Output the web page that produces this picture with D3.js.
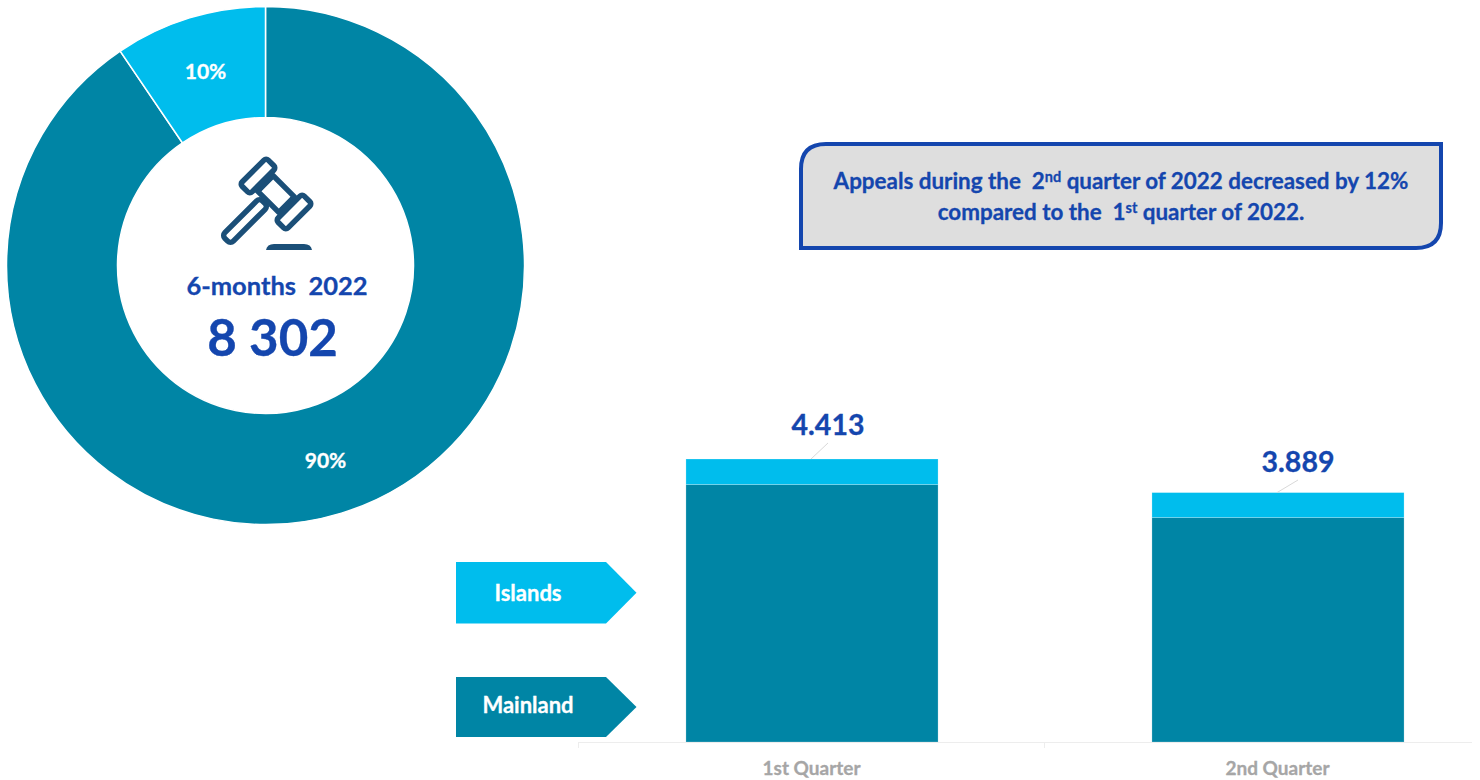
<!DOCTYPE html>
<html><head><meta charset="utf-8">
<script src="https://cdn.jsdelivr.net/npm/d3@7/dist/d3.min.js"></script>
<style>html,body{margin:0;padding:0;background:#fff}svg{display:block}text{font-family:Lato,"Open Sans",sans-serif;font-weight:700;stroke:currentColor;stroke-width:.3px}</style>
</head><body><svg id="c" width="1480" height="780"></svg>
<script>
const quarters = ["1st Quarter", "2nd Quarter"];
const mainland = [4015, 3500];
const islands = [398, 389];
const totalLabels = ["4.413", "3.889"];
const seriesNames = ["Mainland", "Islands"];
const donutValues = [7515, 787];
const donutLabels = ["90%", "10%"];
const centerTitle = "6-months  2022";
const centerValue = "8 302";

const TEAL = "#0085A5", SKY = "#00BDED", BLUE = "#1446AE", NAVY = "#1B4F78";
const svg = d3.select("#c");
const put = (sel, col) => sel.attr("fill", col).style("color", col);

// Donut
const pie = d3.pie().sort(null)(donutValues);
const arc = d3.arc().innerRadius(148).outerRadius(259);
const gd = svg.append("g").attr("transform", "translate(265.5,265.5)");
gd.selectAll("path").data(pie).join("path").attr("d", arc)
  .attr("fill", (d, i) => [TEAL, SKY][i]).attr("stroke", "#fff").attr("stroke-width", 1.5);
const donutLabelPos = [[60, 202], [-60, -187]];
put(gd.selectAll("text").data(pie).join("text")
  .attr("x", (d, i) => donutLabelPos[i][0]).attr("y", (d, i) => donutLabelPos[i][1])
  .attr("text-anchor", "middle").attr("font-size", 21), "#fff")
  .text((d, i) => donutLabels[i]);

// Gavel icon
const icon = svg.append("g").attr("fill", "none").attr("stroke", NAVY).attr("stroke-width", 5.5).attr("stroke-linejoin", "round");
const rr = (cx, cy, w, h, rx) => icon.append("rect").attr("x", -w / 2).attr("y", -h / 2).attr("width", w).attr("height", h).attr("rx", rx)
  .attr("transform", `translate(${cx},${cy}) rotate(45)`);
rr(245, 221, 12, 53, 4);
rr(276, 194, 30, 22, 0);
rr(258, 176, 14, 37, 3);
rr(294, 212, 14, 37, 3);
icon.append("path").attr("d", "M266 250 Q267 244 274 244 L304 244 Q311 244 312 250 Z").attr("fill", NAVY).attr("stroke", "none");

put(svg.append("text").attr("x", 277).attr("y", 295).attr("text-anchor", "middle").attr("font-size", 25.5).attr("xml:space", "preserve"), BLUE).text(centerTitle);
put(svg.append("text").attr("x", 272.5).attr("y", 356).attr("text-anchor", "middle").attr("font-size", 51), BLUE).text(centerValue);

// Callout
svg.append("path").attr("d", "M801 248 L801 169 Q801 144 826 144 L1441 144 L1441 223 Q1441 248 1416 248 Z")
  .attr("fill", "#DEDEDE").attr("stroke", BLUE).attr("stroke-width", 4);
const callout = [
  [["Appeals during the  2", 0], ["nd", 1], [" quarter of 2022 decreased by 12%", 0]],
  [["compared to the  1", 0], ["st", 1], [" quarter of 2022.", 0]]
];
callout.forEach((line, li) => {
  const t = put(svg.append("text").attr("x", 1121).attr("y", 189 + li * 31).attr("text-anchor", "middle")
    .attr("font-size", 22.4).attr("xml:space", "preserve"), BLUE);
  line.forEach(([s, sup]) => t.append("tspan").attr("font-size", sup ? 14.5 : 22.4).attr("baseline-shift", sup ? "7.5" : "0").text(s));
});

// Stacked bars
const x = d3.scaleBand().domain(quarters).range([579, 1511]).paddingInner(0.459).paddingOuter(0.2295);
const y = d3.scaleLinear().domain([0, 4413]).range([742, 459]);
const rows = quarters.map((q, i) => ({ q, Mainland: mainland[i], Islands: islands[i] }));
const stack = d3.stack().keys(seriesNames)(rows);
svg.append("g").selectAll("g").data(stack).join("g").attr("fill", d => d.key === "Mainland" ? TEAL : SKY)
  .selectAll("rect").data(d => d).join("rect")
  .attr("x", d => x(d.data.q)).attr("width", x.bandwidth())
  .attr("y", d => y(d[1])).attr("height", d => y(d[0]) - y(d[1]))
  .attr("stroke", "#fff").attr("stroke-opacity", 0.3).attr("stroke-width", 0.7);

// Axis
const axisG = svg.append("g").attr("stroke", "#EDEDED").attr("stroke-width", 1);
axisG.append("line").attr("x1", 578).attr("x2", 1472).attr("y1", 742.5).attr("y2", 742.5);
[578, 578 + x.step()].forEach(v => axisG.append("line").attr("x1", v + .5).attr("x2", v + .5).attr("y1", 742).attr("y2", 748));
put(svg.selectAll(".tick-l").data(quarters).join("text").attr("class", "tick-l")
  .attr("x", d => x(d) + x.bandwidth() / 2 - 0.5).attr("y", 775).attr("text-anchor", "middle")
  .attr("font-size", 19), "#A6A6A6").text(d => d);

// Total labels with leaders
const totals = quarters.map((q, i) => mainland[i] + islands[i]);
const labelDx = [16, 20], labelY = [435, 472];
put(svg.selectAll(".tot").data(quarters).join("text").attr("class", "tot")
  .attr("x", (d, i) => x(d) + x.bandwidth() / 2 + labelDx[i]).attr("y", (d, i) => labelY[i])
  .attr("text-anchor", "middle").attr("font-size", 28.5), BLUE).text((d, i) => totalLabels[i]);
svg.selectAll(".lead").data(quarters).join("line").attr("class", "lead")
  .attr("x1", d => x(d) + x.bandwidth() / 2 - 1).attr("y1", (d, i) => y(totals[i]))
  .attr("x2", (d, i) => x(d) + x.bandwidth() / 2 + labelDx[i]).attr("y2", (d, i) => labelY[i] + 8)
  .attr("stroke", "#D9D9D9").attr("stroke-width", 1);

// Legend arrows
const legendY = { Islands: [562, 623.5, 601], Mainland: [677, 737, 713] };
seriesNames.forEach(n => {
  const [t, b, base] = legendY[n];
  svg.append("path").attr("d", `M456 ${t} L606 ${t} L636.5 ${(t + b) / 2} L606 ${b} L456 ${b} Z`).attr("fill", n === "Mainland" ? TEAL : SKY);
  put(svg.append("text").attr("x", 528).attr("y", base).attr("text-anchor", "middle").attr("font-size", 22), "#fff").text(n);
});
</script></body></html>
